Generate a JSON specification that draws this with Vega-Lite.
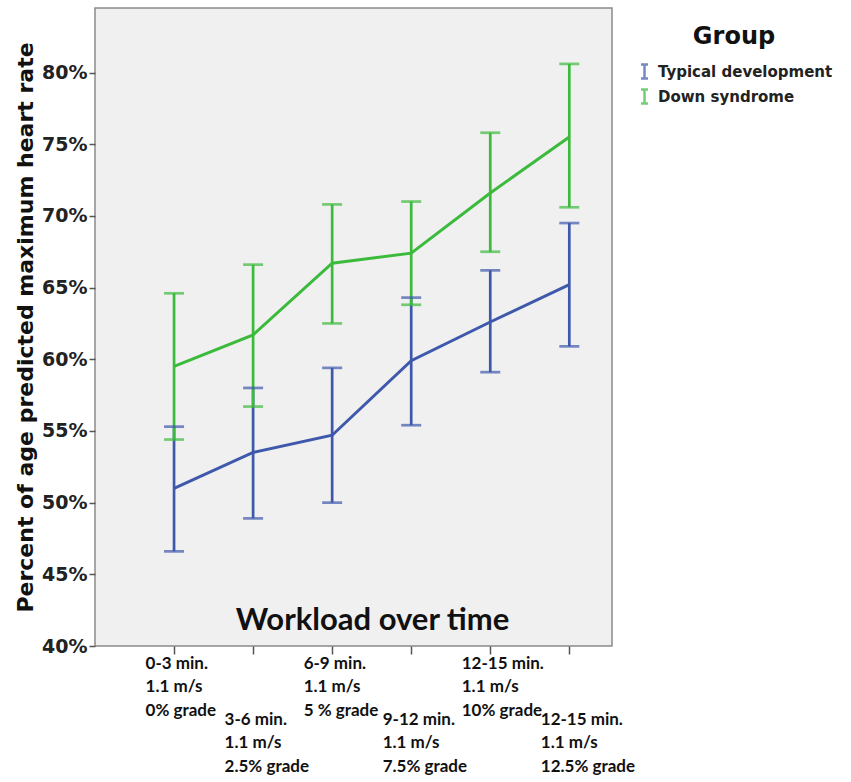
{
  "$schema": "https://vega.github.io/schema/vega-lite/v6.json",
  "autosize": {"type": "none"},
  "padding": {"left": 95, "top": 8, "right": 239, "bottom": 136},
  "width": 517,
  "height": 638,
  "background": "white",
  "config": {
    "view": {"fill": "#f0f0f0", "stroke": "#8a8a8a", "strokeWidth": 1.5}
  },
  "data": {
    "values": [
      {"step": 1, "group": "Typical development", "mean": 51.0, "lo": 46.6, "hi": 55.3},
      {"step": 2, "group": "Typical development", "mean": 53.5, "lo": 48.9, "hi": 58.0},
      {"step": 3, "group": "Typical development", "mean": 54.7, "lo": 50.0, "hi": 59.4},
      {"step": 4, "group": "Typical development", "mean": 59.9, "lo": 55.4, "hi": 64.3},
      {"step": 5, "group": "Typical development", "mean": 62.6, "lo": 59.1, "hi": 66.2},
      {"step": 6, "group": "Typical development", "mean": 65.2, "lo": 60.9, "hi": 69.5},
      {"step": 1, "group": "Down syndrome", "mean": 59.5, "lo": 54.4, "hi": 64.6},
      {"step": 2, "group": "Down syndrome", "mean": 61.7, "lo": 56.7, "hi": 66.6},
      {"step": 3, "group": "Down syndrome", "mean": 66.7, "lo": 62.5, "hi": 70.8},
      {"step": 4, "group": "Down syndrome", "mean": 67.4, "lo": 63.8, "hi": 71.0},
      {"step": 5, "group": "Down syndrome", "mean": 71.6, "lo": 67.5, "hi": 75.8},
      {"step": 6, "group": "Down syndrome", "mean": 75.5, "lo": 70.6, "hi": 80.6}
    ]
  },
  "encoding": {
    "color": {
      "field": "group",
      "type": "nominal",
      "scale": {"domain": ["Typical development", "Down syndrome"], "range": ["#3e58ac", "#3cba3c"]},
      "legend": {
        "title": "Group",
        "orient": "none",
        "legendX": 541,
        "legendY": 17,
        "titleFont": "DejaVu Sans",
        "titleFontWeight": "bold",
        "titleFontSize": 24,
        "titleColor": "#111",
        "titleAnchor": "middle",
        "titlePadding": 14,
        "labelFont": "DejaVu Sans",
        "labelFontWeight": "bold",
        "labelFontSize": 15,
        "labelColor": "#222",
        "labelOffset": 5,
        "labelLimit": 300,
        "rowPadding": 0,
        "symbolType": "M-0.5,-1H0.5M0,-1V1M-0.5,1H0.5",
        "symbolSize": 196,
        "symbolStrokeWidth": 2.5,
        "symbolFillColor": "transparent"
      }
    }
  },
  "layer": [
    {
      "mark": {"type": "line", "strokeWidth": 3},
      "encoding": {
        "x": {
          "field": "step",
          "type": "quantitative",
          "scale": {"domain": [0, 6.54], "nice": false, "zero": false},
          "axis": {
            "title": "Workload over time",
            "titleFont": "Lato",
            "titleFontWeight": "bold",
            "titleFontSize": 31,
            "titleColor": "#111",
            "titleX": 277,
            "titleY": -26,
            "titleAlign": "center",
            "titleBaseline": "middle",
            "values": [1, 2, 3, 4, 5, 6],
            "grid": false,
            "domain": false,
            "ticks": true,
            "tickSize": 8,
            "tickColor": "#555",
            "tickWidth": 1.5,
            "labelFont": "Lato",
            "labelFontWeight": "bold",
            "labelFontSize": 17,
            "labelColor": "#111",
            "labelAlign": "left",
            "labelOffset": -29,
            "labelBaseline": "top",
            "labelPadding": {"condition": {"test": "datum.value % 2 == 0", "value": 57}, "value": 1},
            "labelLineHeight": 23.5,
            "labelOverlap": false,
            "labelBound": false,
            "labelFlush": false,
            "labelExpr": "datum.value == 1 ? ['0-3 min.', '1.1 m/s', '0% grade'] : datum.value == 2 ? ['3-6 min.', '1.1 m/s', '2.5% grade'] : datum.value == 3 ? ['6-9 min.', '1.1 m/s', '5 % grade'] : datum.value == 4 ? ['9-12 min.', '1.1 m/s', '7.5% grade'] : datum.value == 5 ? ['12-15 min.', '1.1 m/s', '10% grade'] : ['12-15 min.', '1.1 m/s', '12.5% grade']"
          }
        },
        "y": {
          "field": "mean",
          "type": "quantitative",
          "scale": {"domain": [40, 84.5], "nice": false, "zero": false},
          "axis": {
            "title": "Percent of age predicted maximum heart rate",
            "titleFont": "DejaVu Sans",
            "titleFontWeight": "bold",
            "titleFontSize": 22,
            "titleColor": "#111",
            "titleAngle": 270,
            "titleX": -70,
            "titleY": 319,
            "titleAlign": "center",
            "titleBaseline": "middle",
            "values": [40, 45, 50, 55, 60, 65, 70, 75, 80],
            "grid": false,
            "domain": false,
            "tickSize": 6,
            "tickColor": "#555",
            "tickWidth": 1.5,
            "labelFont": "DejaVu Sans",
            "labelFontWeight": "bold",
            "labelFontSize": 19,
            "labelColor": "#222",
            "labelPadding": 2,
            "labelFlush": false,
            "labelExpr": "datum.value + '%'"
          }
        }
      }
    },
    {
      "mark": {"type": "rule", "strokeWidth": 2.7},
      "encoding": {
        "x": {"field": "step", "type": "quantitative"},
        "y": {"field": "lo", "type": "quantitative"},
        "y2": {"field": "hi"}
      }
    },
    {
      "mark": {"type": "tick", "orient": "horizontal", "size": 20, "thickness": 2.7},
      "encoding": {
        "x": {"field": "step", "type": "quantitative"},
        "y": {"field": "lo", "type": "quantitative"}
      }
    },
    {
      "mark": {"type": "tick", "orient": "horizontal", "size": 20, "thickness": 2.7},
      "encoding": {
        "x": {"field": "step", "type": "quantitative"},
        "y": {"field": "hi", "type": "quantitative"}
      }
    }
  ]
}
